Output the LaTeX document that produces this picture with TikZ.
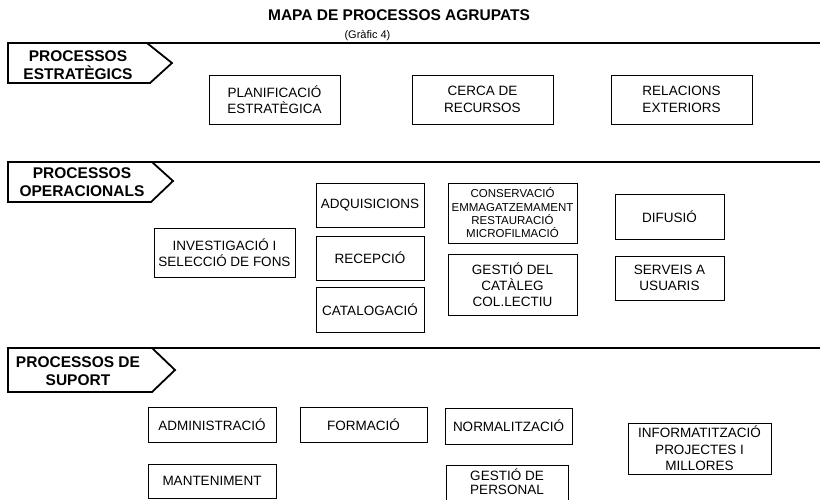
\documentclass[tikz,border=0pt]{standalone}
\usepackage{fontspec}
\setmainfont{Liberation Sans}
\begin{document}
\begin{tikzpicture}[x=1pt,y=-1pt,
  boxline/.style={line width=0.9pt},
  box/.style={draw, boxline, align=center, inner sep=0pt, font=\fontsize{13.5}{16.5}\selectfont},
  smallbox/.style={box, font=\fontsize{11.5}{13.3}\selectfont},
  sepline/.style={line width=1.8pt},
  tagshape/.style={line width=1.8pt, line join=miter},
  tagtext/.style={align=center, inner sep=0pt, font=\fontsize{15.5}{18}\selectfont\bfseries}]
\useasboundingbox (0,0) rectangle (820,499);

% title
\node[font=\fontsize{15.5}{18}\selectfont\bfseries] (title) at (399,15) {MAPA DE PROCESSOS AGRUPATS};
\node[font=\fontsize{11}{13}\selectfont] (sub) at (367.5,36) {(Gràfic 4)};

% section 1
\draw[sepline] (8,43) -- (820,43);
\draw[tagshape] (8,43) -- (147,43) -- (172,63) -- (150,83) -- (8,83) -- cycle;
\node[tagtext] (t1) at (78,65) {PROCESSOS\\ESTRATÈGICS};

\node[box, minimum width=131, minimum height=49] (plan) at (274.5,99.5) {PLANIFICACIÓ\\ESTRATÈGICA};
\node[box, minimum width=141, minimum height=49] (cerca) at (482.5,99.5) {CERCA DE\\RECURSOS};
\node[box, minimum width=141, minimum height=49] (rel) at (681.5,99.5) {RELACIONS\\EXTERIORS};

% section 2
\draw[sepline] (8,162) -- (820,162);
\draw[tagshape] (8,162) -- (152,162) -- (173,181) -- (151,202) -- (8,202) -- cycle;
\node[tagtext] (t2) at (82,182.5) {PROCESSOS\\OPERACIONALS};

\node[box, minimum width=141, minimum height=49] (inv) at (224.5,252.5) {INVESTIGACIÓ I\\SELECCIÓ DE FONS};
\node[box, minimum width=108, minimum height=44] (adq) at (370,205) {ADQUISICIONS};
\node[box, minimum width=108, minimum height=44] (rec) at (370,258) {RECEPCIÓ};
\node[box, minimum width=108, minimum height=45] (cat) at (370,309.5) {CATALOGACIÓ};
\node[smallbox, minimum width=129, minimum height=60] (cons) at (512.5,213) {CONSERVACIÓ\\EMMAGATZEMAMENT\\RESTAURACIÓ\\MICROFILMACIÓ};
\node[box, font=\fontsize{13.5}{16}\selectfont, minimum width=129, minimum height=61] (gcat) at (512.5,284.5) {GESTIÓ DEL\\CATÀLEG\\COL.LECTIU};
\node[box, minimum width=109, minimum height=45] (dif) at (669.5,216.5) {DIFUSIÓ};
\node[box, minimum width=109, minimum height=44] (serv) at (669.5,278) {SERVEIS A\\USUARIS};

% section 3
\draw[sepline] (8,348) -- (820,348);
\draw[tagshape] (8,348) -- (152,348) -- (175,370) -- (152,392) -- (8,392) -- cycle;
\node[tagtext] (t3) at (78,371) {PROCESSOS DE\\SUPORT};

\node[box, minimum width=128, minimum height=35] (adm) at (212,424.5) {ADMINISTRACIÓ};
\node[box, minimum width=127, minimum height=35] (form) at (363.5,424.5) {FORMACIÓ};
\node[box, minimum width=128, minimum height=34] (mant) at (212,481) {MANTENIMENT};
\node[box, minimum width=127, minimum height=36] (norm) at (508.5,426) {NORMALITZACIÓ};
\node[align=center, inner sep=0pt, font=\fontsize{13.5}{14.5}\selectfont] (gp) at (507,481.5) {GESTIÓ DE\\PERSONAL};
\draw[boxline] (446,505) -- (446,465) -- (568,465) -- (568,505);
\node[box, minimum width=143, minimum height=51] (infor) at (699.5,448.5) {INFORMATITZACIÓ\\PROJECTES I\\MILLORES};
\end{tikzpicture}
\end{document}
